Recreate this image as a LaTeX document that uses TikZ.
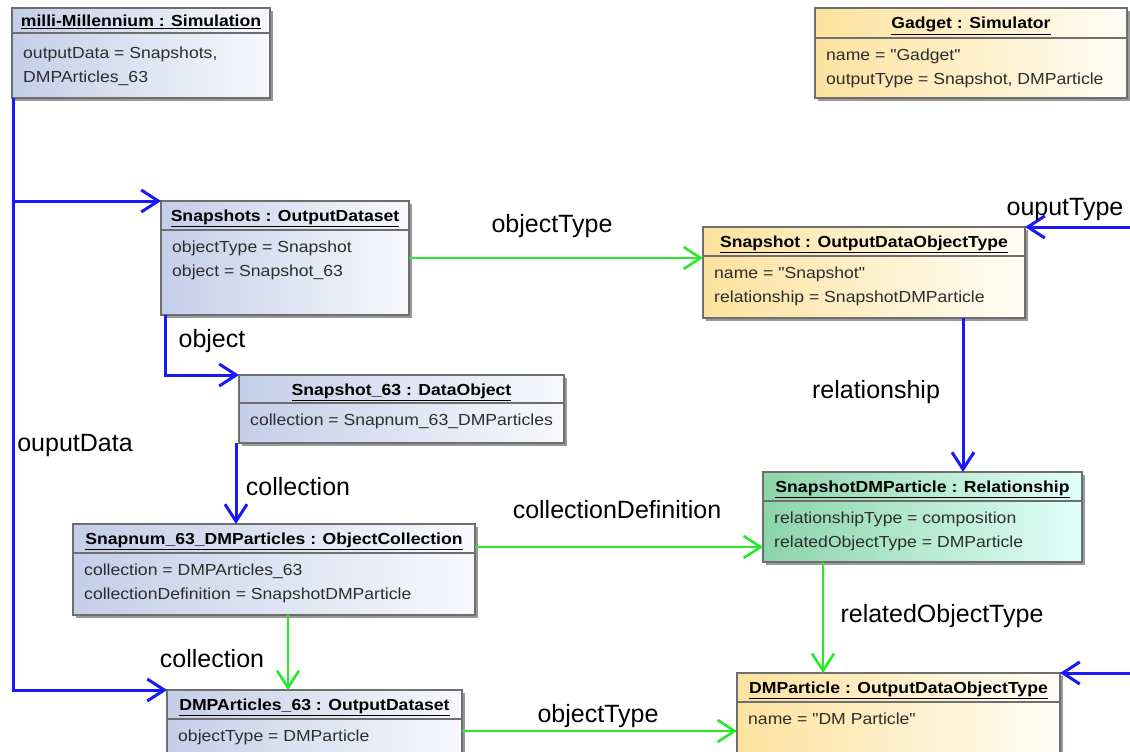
\documentclass[tikz,border=0pt]{standalone}
\usepackage{fontspec}
\setmainfont{Liberation Sans}
\newfontfamily\boxfont[FakeStretch=1.1]{Liberation Sans}
\usetikzlibrary{arrows.meta,shadows,calc}
\definecolor{boxborder}{RGB}{110,110,110}
\definecolor{blueL}{RGB}{196,206,232}
\definecolor{blueR}{RGB}{248,249,253}
\definecolor{yelL}{RGB}{253,226,158}
\definecolor{yelR}{RGB}{255,253,245}
\definecolor{grnL}{RGB}{140,212,170}
\definecolor{grnR}{RGB}{225,255,250}
\definecolor{lblue}{RGB}{25,25,245}
\definecolor{lgreen}{RGB}{40,235,40}
\definecolor{txtgray}{RGB}{45,45,45}
\tikzset{
  objbox/.style={draw=boxborder, line width=1.3pt, rectangle, inner sep=0pt, outer sep=0pt,
    drop shadow={shadow xshift=3pt, shadow yshift=-3pt, fill=black!40, opacity=1}},
  bluefill/.style={left color=blueL, right color=blueR},
  yelfill/.style={left color=yelL, right color=yelR},
  grnfill/.style={left color=grnL, right color=grnR},
  sepline/.style={draw=boxborder, line width=1.3pt},
  headtext/.style={font=\boxfont\bfseries\fontsize{16}{20}\selectfont, inner sep=0pt, anchor=base, text=black},
  attrtext/.style={font=\boxfont\fontsize{16}{23.5}\selectfont, inner sep=0pt, anchor=north west, align=left, text=txtgray},
  lbl/.style={font=\fontsize{25}{29}\selectfont, inner sep=0pt, text=black},
  bl/.style={draw=lblue, line width=3pt, -{Straight Barb[length=17pt,width=22pt,line width=3pt]}},
  gr/.style={draw=lgreen, line width=2.6pt, -{Straight Barb[length=17pt,width=22pt,line width=2.6pt]}},
}
\def\umlattroff{11}
% #1 name, #2 x, #3 y, #4 w, #5 h, #6 header height, #7 fill style, #8 header, #9 attributes
\newcommand\umlobj[9]{%
  \node[objbox,#7,minimum width=#4pt,minimum height=#5pt,anchor=north west] (#1) at (#2,#3) {};
  \draw[sepline] ([yshift=-#6pt]#1.north west) -- ([yshift=-#6pt]#1.north east);
  \node[headtext] (#1-h) at ([yshift={-(#6/2+6)*1pt}]#1.north) {\underline{#8}};
  \node[attrtext] (#1-a) at ([xshift=11pt,yshift={-(#6+\umlattroff)*1pt}]#1.north west) {#9};
}
\begin{document}
\begin{tikzpicture}[x=1pt,y=-1pt]
\path[use as bounding box] (0,0) rectangle (1130,752);
\clip (0,0) rectangle (1130,752);
\fill[white] (0,0) rectangle (1130,752);

% objects
\begin{scope}
\def\umlattroff{14}
\umlobj{mm}{12}{8}{258}{90}{25}{bluefill}{milli-Millennium : Simulation}{outputData = Snapshots,\\DMPArticles\_63}
\end{scope}
\umlobj{gadget}{815}{8}{312}{90}{30}{yelfill}{Gadget : Simulator}{name = "Gadget"\\outputType = Snapshot, DMParticle}
\umlobj{snaps}{161}{201}{248}{114}{29}{bluefill}{Snapshots : OutputDataset}{objectType = Snapshot\\object = Snapshot\_63}
\umlobj{snapT}{703}{227}{322}{91}{29}{yelfill}{Snapshot : OutputDataObjectType}{name = "Snapshot"\\relationship = SnapshotDMParticle}
\umlobj{s63}{239}{375}{325}{68}{28}{bluefill}{Snapshot\_63 : DataObject}{collection = Snapnum\_63\_DMParticles}
\umlobj{rel}{763}{472}{319}{90}{29}{grnfill}{SnapshotDMParticle : Relationship}{relationshipType = composition\\relatedObjectType = DMParticle}
\umlobj{snapnum}{73}{524}{402}{91}{29}{bluefill}{Snapnum\_63\_DMParticles : ObjectCollection}{collection = DMPArticles\_63\\collectionDefinition = SnapshotDMParticle}
\umlobj{dmp63}{167}{690}{295}{90}{29}{bluefill}{DMPArticles\_63 : OutputDataset}{objectType = DMParticle}
\umlobj{dmpT}{737}{673}{323}{100}{29}{yelfill}{DMParticle : OutputDataObjectType}{name = "DM Particle"}

% free ends coming from off-picture
\coordinate (gout1) at (1136,227);
\coordinate (gout2) at (1136,673);

% blue connectors
\draw[bl] ([xshift=1pt]mm.south west) |- (snaps.north west);
\draw[bl] ([xshift=1pt]mm.south west) |- (dmp63.north west);
\draw[bl] ([xshift=4pt]snaps.south west) |- (s63.north west);
\draw[bl] ([xshift=-3pt]s63.south west) -- ([xshift=-3pt]s63.south west |- snapnum.north);
\draw[bl] ([xshift=260pt]snapT.south west) -- ([xshift=260pt]snapT.south west |- rel.north);
\draw[bl] (gout1) -- (snapT.north east);
\draw[bl] (gout2) -- (dmpT.north east);

% green connectors
\draw[gr] (snaps.east) -- (snaps.east -| snapT.west);
\draw[gr] ([yshift=-23pt]snapnum.north east) -- ([yshift=-23pt]snapnum.north east -| rel.west);
\draw[gr] ([xshift=215pt]snapnum.south west) -- ([xshift=215pt]snapnum.south west |- dmp63.north);
\draw[gr] ([xshift=60pt]rel.south west) -- ([xshift=60pt]rel.south west |- dmpT.north);
\draw[gr] ([yshift=-41pt]dmp63.north east) -- ([yshift=-41pt]dmp63.north east -| dmpT.west);

% labels
\node[lbl] (l-objtype1) at (552,226) {objectType};
\node[lbl] (l-object) at (212,341) {object};
\node[lbl] (l-rel) at (876,392) {relationship};
\node[lbl] (l-outdata) at (75,445) {ouputData};
\node[lbl] (l-coll1) at (298,487) {collection};
\node[lbl] (l-colldef) at (617,510) {collectionDefinition};
\node[lbl] (l-relobj) at (942,616) {relatedObjectType};
\node[lbl] (l-coll2) at (212,659) {collection};
\node[lbl] (l-objtype2) at (598,716) {objectType};
\node[lbl] (l-outtype) at (1065,209) {ouputType};
\end{tikzpicture}
\end{document}
